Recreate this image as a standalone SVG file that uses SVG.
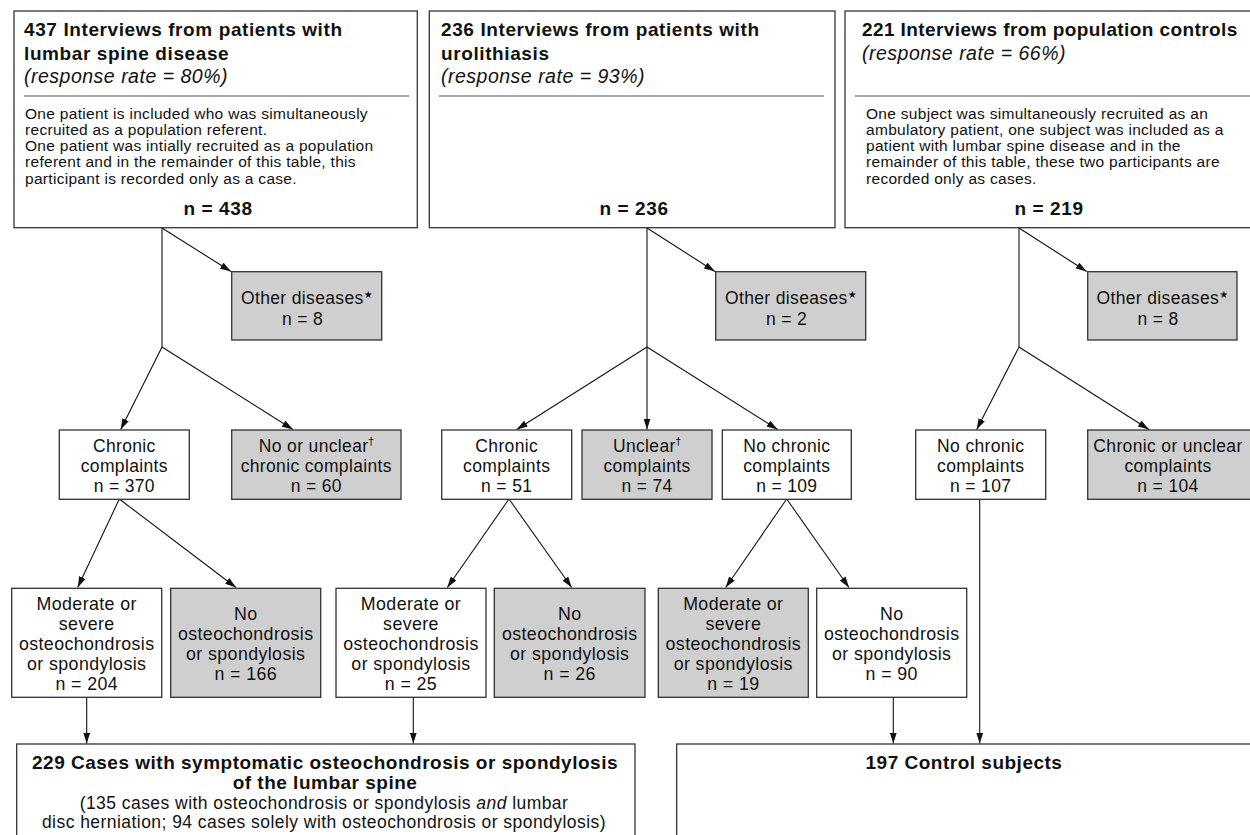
<svg xmlns="http://www.w3.org/2000/svg" width="1250" height="835" viewBox="0 0 1250 835">
<style>
.box{fill:#fff;stroke:#333;stroke-width:1.3}
.gray{fill:#cfcfcf}
.sep{stroke:#555;stroke-width:1.2}
text{font-family:"Liberation Sans",Arial,sans-serif;fill:#111}
.title{font-size:19px;font-weight:bold;letter-spacing:0.6px}
.ital{font-size:19.5px;font-style:italic;letter-spacing:0.5px}
.body{font-size:15.5px;letter-spacing:0.3px}
.nb{font-size:19px;font-weight:bold;letter-spacing:0.6px;text-anchor:middle}
.r2{font-size:17.5px;letter-spacing:0.35px;text-anchor:middle}
.r3{font-size:17.8px;letter-spacing:0.4px;text-anchor:middle}
.bt{font-size:17.5px;letter-spacing:0.45px;text-anchor:middle}
.btitle{font-size:19px;font-weight:bold;letter-spacing:0.5px;text-anchor:middle}
.sup{font-family:"DejaVu Sans",sans-serif;font-size:10px}
.conn line{stroke:#111;stroke-width:1.1;fill:none}
.arr{marker-end:url(#ah)}
</style>
<defs>
<marker id="ah" markerUnits="userSpaceOnUse" markerWidth="11" markerHeight="7" refX="11" refY="3.5" orient="auto">
<path d="M0,0 L11,3.5 L0,7 z" fill="#111"/>
</marker>
</defs>

<g id="connectors" class="conn">
<line x1="162" y1="228" x2="162" y2="347"/>
<line class="arr" x1="162" y1="228" x2="231" y2="271.5"/>
<line class="arr" x1="162" y1="347" x2="120.7" y2="429.5"/>
<line class="arr" x1="162" y1="347" x2="293" y2="429.5"/>
<line x1="647" y1="228" x2="647" y2="347"/>
<line class="arr" x1="647" y1="228" x2="715" y2="271.5"/>
<line class="arr" x1="647" y1="347" x2="516.7" y2="429.5"/>
<line class="arr" x1="647" y1="347" x2="647" y2="429.5"/>
<line class="arr" x1="647" y1="347" x2="777.7" y2="429.5"/>
<line x1="1019" y1="228" x2="1019" y2="347"/>
<line class="arr" x1="1019" y1="228" x2="1086.7" y2="271.5"/>
<line class="arr" x1="1019" y1="347" x2="976.7" y2="429.5"/>
<line class="arr" x1="1019" y1="347" x2="1149" y2="429.5"/>
<line class="arr" x1="119.3" y1="499" x2="77.7" y2="587.5"/>
<line class="arr" x1="119.3" y1="499" x2="236" y2="587.5"/>
<line class="arr" x1="509" y1="499" x2="447.3" y2="587.5"/>
<line class="arr" x1="509" y1="499" x2="571.7" y2="587.5"/>
<line class="arr" x1="786.7" y1="499" x2="725.7" y2="587.5"/>
<line class="arr" x1="786.7" y1="499" x2="849" y2="587.5"/>
<line class="arr" x1="86.7" y1="697" x2="86.7" y2="743.5"/>
<line class="arr" x1="413.3" y1="697" x2="413.3" y2="743.5"/>
<line class="arr" x1="893.3" y1="697" x2="893.3" y2="743.5"/>
<line class="arr" x1="979.7" y1="499" x2="979.7" y2="743.5"/>
</g>

<g id="top-lumbar">
<rect class="box" x="14" y="11" width="403.3" height="216.7"/>
<line class="sep" x1="24" y1="96" x2="409" y2="96"/>
<text class="title" x="24" y="36">437 Interviews from patients with</text>
<text class="title" x="24" y="59.5">lumbar spine disease</text>
<text class="ital" x="24" y="83">(response rate = 80%)</text>
<text class="body" x="25" y="118.5">One patient is included who was simultaneously</text>
<text class="body" x="25" y="134.8">recruited as a population referent.</text>
<text class="body" x="25" y="151.1">One patient was intially recruited as a population</text>
<text class="body" x="25" y="167.4">referent and in the remainder of this table, this</text>
<text class="body" x="25" y="183.7">participant is recorded only as a case.</text>
<text class="nb" x="218" y="215">n = 438</text>
</g>

<g id="top-uro">
<rect class="box" x="429.3" y="11" width="405.7" height="216.7"/>
<line class="sep" x1="439" y1="96" x2="824" y2="96"/>
<text class="title" x="441" y="36">236 Interviews from patients with</text>
<text class="title" x="441" y="59.5">urolithiasis</text>
<text class="ital" x="441" y="83">(response rate = 93%)</text>
<text class="nb" x="634" y="215">n = 236</text>
</g>

<g id="top-controls">
<rect class="box" x="845" y="11" width="407" height="216.7"/>
<line class="sep" x1="855" y1="96" x2="1252" y2="96"/>
<text class="title" x="862" y="36" style="letter-spacing:0.4px">221 Interviews from population controls</text>
<text class="ital" x="862" y="59.5">(response rate = 66%)</text>
<text class="body" x="866" y="118.5">One subject was simultaneously recruited as an</text>
<text class="body" x="866" y="134.8">ambulatory patient, one subject was included as a</text>
<text class="body" x="866" y="151.1">patient with lumbar spine disease and in the</text>
<text class="body" x="866" y="167.4">remainder of this table, these two participants are</text>
<text class="body" x="866" y="183.7">recorded only as cases.</text>
<text class="nb" x="1049" y="215">n = 219</text>
</g>

<g id="other1">
<rect class="box gray" x="231.7" y="271.7" width="150" height="68.3"/>
<text class="r2" x="307" y="304">Other diseases<tspan class="sup" dy="-6">★</tspan></text>
<text class="r2" x="302.5" y="325">n = 8</text>
</g>
<g id="other2">
<rect class="box gray" x="715.7" y="271.7" width="150" height="68.3"/>
<text class="r2" x="791" y="304">Other diseases<tspan class="sup" dy="-6">★</tspan></text>
<text class="r2" x="786.5" y="325">n = 2</text>
</g>
<g id="other3">
<rect class="box gray" x="1087.7" y="271.7" width="149.3" height="68.3"/>
<text class="r2" x="1162.5" y="304">Other diseases<tspan class="sup" dy="-6">★</tspan></text>
<text class="r2" x="1158" y="325">n = 8</text>
</g>

<g id="chronic1">
<rect class="box" x="59.3" y="430" width="130" height="69.3"/>
<text class="r2" x="124.3" y="452.3">Chronic</text>
<text class="r2" x="124.3" y="472.3">complaints</text>
<text class="r2" x="124.3" y="492.3">n = 370</text>
</g>
<g id="unclear1">
<rect class="box gray" x="231.7" y="430" width="169.3" height="69.3"/>
<text class="r2" x="316.3" y="452.3">No or unclear<tspan class="sup" font-size="11" dy="-7">†</tspan></text>
<text class="r2" x="316.3" y="472.3">chronic complaints</text>
<text class="r2" x="316.3" y="492.3">n = 60</text>
</g>
<g id="chronic2">
<rect class="box" x="441.7" y="430" width="130" height="69.3"/>
<text class="r2" x="506.7" y="452.3">Chronic</text>
<text class="r2" x="506.7" y="472.3">complaints</text>
<text class="r2" x="506.7" y="492.3">n = 51</text>
</g>
<g id="unclear2">
<rect class="box gray" x="582" y="430" width="130" height="69.3"/>
<text class="r2" x="647" y="452.3">Unclear<tspan class="sup" font-size="11" dy="-7">†</tspan></text>
<text class="r2" x="647" y="472.3">complaints</text>
<text class="r2" x="647" y="492.3">n = 74</text>
</g>
<g id="nochronic2">
<rect class="box" x="722.3" y="430" width="129" height="69.3"/>
<text class="r2" x="786.8" y="452.3">No chronic</text>
<text class="r2" x="786.8" y="472.3">complaints</text>
<text class="r2" x="786.8" y="492.3">n = 109</text>
</g>
<g id="nochronic3">
<rect class="box" x="915.7" y="430" width="130" height="69.3"/>
<text class="r2" x="980.7" y="452.3">No chronic</text>
<text class="r2" x="980.7" y="472.3">complaints</text>
<text class="r2" x="980.7" y="492.3">n = 107</text>
</g>
<g id="chronicunclear3">
<rect class="box gray" x="1087.7" y="430" width="164" height="69.3"/>
<text class="r2" x="1168" y="452.3">Chronic or unclear</text>
<text class="r2" x="1168" y="472.3">complaints</text>
<text class="r2" x="1168" y="492.3">n = 104</text>
</g>

<g id="mod1">
<rect class="box" x="11.7" y="588.3" width="150" height="109"/>
<text class="r3" x="86.7" y="610">Moderate or</text>
<text class="r3" x="86.7" y="630">severe</text>
<text class="r3" x="86.7" y="650">osteochondrosis</text>
<text class="r3" x="86.7" y="670">or spondylosis</text>
<text class="r3" x="86.7" y="690">n = 204</text>
</g>
<g id="no1">
<rect class="box gray" x="170.7" y="588.3" width="150" height="109"/>
<text class="r3" x="245.7" y="620">No</text>
<text class="r3" x="245.7" y="640">osteochondrosis</text>
<text class="r3" x="245.7" y="660">or spondylosis</text>
<text class="r3" x="245.7" y="680">n = 166</text>
</g>
<g id="mod2">
<rect class="box" x="336" y="588.3" width="150" height="109"/>
<text class="r3" x="411" y="610">Moderate or</text>
<text class="r3" x="411" y="630">severe</text>
<text class="r3" x="411" y="650">osteochondrosis</text>
<text class="r3" x="411" y="670">or spondylosis</text>
<text class="r3" x="411" y="690">n = 25</text>
</g>
<g id="no2">
<rect class="box gray" x="494.3" y="588.3" width="150.7" height="109"/>
<text class="r3" x="569.7" y="620">No</text>
<text class="r3" x="569.7" y="640">osteochondrosis</text>
<text class="r3" x="569.7" y="660">or spondylosis</text>
<text class="r3" x="569.7" y="680">n = 26</text>
</g>
<g id="mod3">
<rect class="box gray" x="658.3" y="588.3" width="150" height="109"/>
<text class="r3" x="733.3" y="610">Moderate or</text>
<text class="r3" x="733.3" y="630">severe</text>
<text class="r3" x="733.3" y="650">osteochondrosis</text>
<text class="r3" x="733.3" y="670">or spondylosis</text>
<text class="r3" x="733.3" y="690">n = 19</text>
</g>
<g id="no3">
<rect class="box" x="816.7" y="588.3" width="150" height="109"/>
<text class="r3" x="891.7" y="620">No</text>
<text class="r3" x="891.7" y="640">osteochondrosis</text>
<text class="r3" x="891.7" y="660">or spondylosis</text>
<text class="r3" x="891.7" y="680">n = 90</text>
</g>

<g id="cases">
<rect class="box" x="16.7" y="744" width="618.3" height="110"/>
<text class="btitle" x="325" y="769">229 Cases with symptomatic osteochondrosis or spondylosis</text>
<text class="btitle" x="325" y="789">of the lumbar spine</text>
<text class="bt" x="324" y="808.5">(135 cases with osteochondrosis or spondylosis <tspan font-style="italic">and</tspan> lumbar</text>
<text class="bt" x="324" y="827.5">disc herniation; 94 cases solely with osteochondrosis or spondylosis)</text>
</g>
<g id="controls">
<rect class="box" x="676.7" y="744" width="576" height="110"/>
<text class="btitle" x="964" y="769">197 Control subjects</text>
</g>
</svg>
